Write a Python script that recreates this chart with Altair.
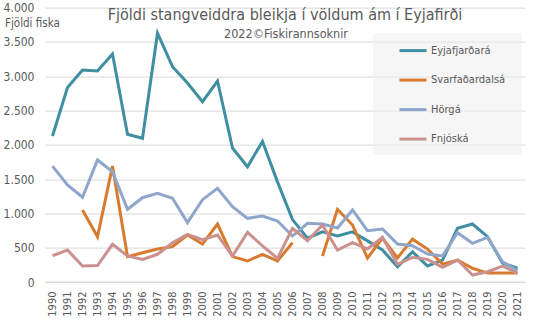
import altair as alt
import pandas as pd

years = list(range(1990, 2022))

eyjafjardara = [2128, 2835, 3090, 3076, 3324, 2153, 2095, 3627, 3138, 2900,
                2628, 2930, 1953, 1680, 2050, 1460, 910, 640, 730, 670,
                730, 600, 466, 223, 440, 233, 320, 783, 845, 660,
                277, 200]
svarfadardalsa = [None, None, 1050, 660, 1690, 370, 427, 480, 515, 685,
                  553, 845, 370, 306, 404, 306, 573, None, 380, 1060,
                  830, 350, 640, 350, 625, 480, 260, 320, 200, 130,
                  130, 130]
horga = [1690, 1414, 1235, 1778, 1608, 1060, 1229, 1293, 1220, 865,
         1200, 1366, 1098, 928, 962, 889, 670, 855, 845, 787,
         1050, 748, 772, 554, 529, 408, 379, 719, 564, 651,
         296, 165]
fnjoska = [383, 466, 233, 240, 550, 380, 330, 404, 573, 695,
           617, 685, 380, 724, 525, 345, 783, 602, 830, 466,
           573, 481, 651, 258, 360, 330, 214, 320, 102, 150,
           233, 127]

series_names = ["Eyjafjarðará", "Svarfaðardalsá", "Hörgá", "Fnjóská"]
series_values = [eyjafjardara, svarfadardalsa, horga, fnjoska]
series_colors = ["#3F8FA1", "#D97B2E", "#8FA6CA", "#CB918F"]

title_text = "Fjöldi stangveiddra bleikja í völdum ám í Eyjafirði"
subtitle_text = "2022©Fiskirannsoknir"
ylabel_text = "Fjöldi fiska"

rows = []
for name, vals in zip(series_names, series_values):
    for y, v in zip(years, vals):
        rows.append({"year": str(y), "river": name, "fish": v})
df = pd.DataFrame(rows)

FONT = "Liberation Sans Narrow, DejaVu Sans Condensed, Liberation Sans"
GRAY = "#595959"

W, H = 480, 274.4

legend_box = alt.Chart(pd.DataFrame({"a": [0]})).mark_rect(
    fill="#EFEFEF", opacity=0.55
).encode(x=alt.value(328), x2=alt.value(477), y=alt.value(25.4), y2=alt.value(147.4))

lines = alt.Chart(df).mark_line(strokeWidth=3, invalid="break-paths-show-domains").encode(
    x=alt.X("year:O", title=None,
            scale=alt.Scale(type="point", padding=0.5),
            axis=alt.Axis(labelAngle=-90, labelAlign="right", labelBaseline="middle",
                          labelPadding=9, ticks=False, domain=True, domainColor="#D9D9D9",
                          labelColor=GRAY, labelFont=FONT, labelFontSize=11, grid=False)),
    y=alt.Y("fish:Q", title=None,
            scale=alt.Scale(domain=[0, 4000], nice=False),
            axis=alt.Axis(values=list(range(0, 4001, 500)),
                          labelExpr="replace(format(datum.value, ','), ',', '.')",
                          labelPadding=11, ticks=False, domain=False,
                          gridColor="#D9D9D9", gridWidth=1,
                          labelColor=GRAY, labelFont=FONT, labelFontSize=12)),
    color=alt.Color("river:N", title=None,
                    scale=alt.Scale(domain=series_names, range=series_colors),
                    legend=alt.Legend(orient="none", legendX=353, legendY=28,
                                      symbolType="stroke", symbolSize=729,
                                      symbolStrokeWidth=3, rowPadding=8.5,
                                      labelOffset=3, labelFont=FONT, labelFontSize=11,
                                      labelColor=GRAY, padding=0)),
)

def text_layer(txt, x, y, size, align="center"):
    return alt.Chart(pd.DataFrame({"t": [txt]})).mark_text(
        font=FONT, fontSize=size, color=GRAY, align=align, baseline="middle"
    ).encode(text="t:N", x=alt.value(x), y=alt.value(y))

title = text_layer(title_text, 240, 7.6, 16)
subtitle = text_layer(subtitle_text, 241, 26.4, 12.5)
ylabel = text_layer(ylabel_text, -40, 16.4, 11.5, align="left")

chart = alt.layer(legend_box, lines, title, subtitle, ylabel).properties(
    width=W, height=H,
    autosize=alt.AutoSizeParams(type="none"),
    padding={"left": 45, "top": 7.6, "right": 15, "bottom": 47.0},
).configure_view(stroke=None)

chart.save("out.html", embed_options={"renderer": "svg", "actions": False})
